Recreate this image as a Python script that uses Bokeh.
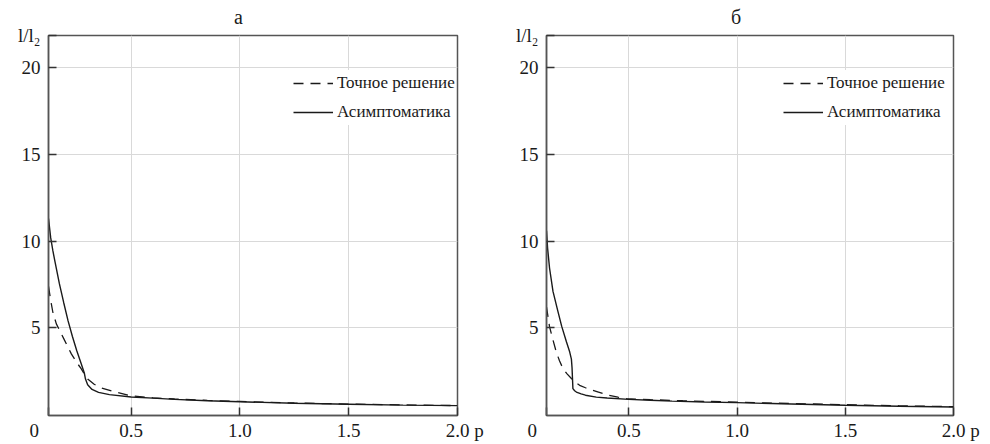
from bokeh.plotting import figure
from bokeh.layouts import row
from bokeh.models import Legend, LegendItem, FixedTicker, Range1d
from bokeh.embed import file_html
from bokeh.resources import INLINE

# ---- data ----
x_ticks = [0.5, 1.0, 1.5, 2.0]
x_tick_labels = ["0.5", "1.0", "1.5", "2.0"]
y_ticks = [5, 10, 15, 20]
panel_titles = ["а", "б"]
series_names = ["Точное решение", "Асимптоматика"]
x_label = "p"
y_label = "l/l₂"
origin_label = "0"
x_start, x_end = 0.12, 2.0
y_start, y_end = -0.05, 21.85

# panel а
a_exact_p = [0.12, 0.13, 0.14, 0.156, 0.17, 0.19, 0.21, 0.225, 0.25, 0.27, 0.285, 0.30, 0.33, 0.36,
             0.41, 0.5, 0.6, 0.7, 0.85, 1.0, 1.25, 1.5, 1.75, 2.0]
a_exact_l = [7.4, 6.6, 5.9, 5.23, 4.88, 4.38, 3.88, 3.5, 3.0, 2.65, 2.34, 2.05, 1.75, 1.55,
             1.36, 1.08, 0.97, 0.9, 0.82, 0.76, 0.67, 0.61, 0.56, 0.52]
a_asym_p = [0.12, 0.13, 0.14, 0.15, 0.17, 0.19, 0.21, 0.23, 0.25, 0.27, 0.285, 0.29, 0.30, 0.32,
            0.35, 0.40, 0.50, 0.60, 0.70, 0.85, 1.0, 1.25, 1.5, 1.75, 2.0]
a_asym_l = [11.3, 10.2, 9.45, 8.8, 7.55, 6.45, 5.4, 4.5, 3.68, 2.95, 2.38, 2.05, 1.72, 1.45,
            1.28, 1.15, 1.02, 0.95, 0.88, 0.80, 0.74, 0.66, 0.60, 0.55, 0.52]

# panel б
b_exact_p = [0.12, 0.134, 0.15, 0.165, 0.18, 0.196, 0.215, 0.235, 0.255, 0.273, 0.3, 0.32, 0.36,
             0.397, 0.45, 0.49, 0.6, 0.75, 1.0, 1.25, 1.5, 1.75, 2.0]
b_exact_l = [6.2, 5.07, 4.3, 3.62, 3.1, 2.66, 2.35, 2.08, 1.86, 1.69, 1.55, 1.46, 1.3,
             1.15, 1.01, 0.92, 0.86, 0.8, 0.72, 0.64, 0.57, 0.51, 0.46]
b_asym_p = [0.12, 0.125, 0.134, 0.15, 0.173, 0.19, 0.212, 0.227, 0.235, 0.238, 0.240, 0.242, 0.25,
            0.258, 0.28, 0.3, 0.35, 0.4, 0.5, 0.6, 0.7, 0.85, 1.0, 1.25, 1.5, 1.75, 2.0]
b_asym_l = [10.6, 9.6, 8.45, 7.1, 5.94, 5.1, 4.2, 3.62, 3.2, 2.7, 2.1, 1.5, 1.38,
            1.3, 1.2, 1.12, 1.01, 0.96, 0.88, 0.83, 0.78, 0.73, 0.69, 0.61, 0.54, 0.48, 0.44]

FONT = "'Liberation Serif', 'Times New Roman', serif"
INK = "#1a1a1a"
FRAME = "#555555"
NB = "\u00a0"


def make_panel(title, ep, el, sp, sl, bl, br, fw, legend_x):
    p = figure(frame_width=fw, frame_height=380,
               x_range=Range1d(x_start, x_end), y_range=Range1d(y_start, y_end),
               output_backend="svg", toolbar_location=None,
               min_border_left=bl, min_border_right=br, min_border_top=35, min_border_bottom=28)
    p.background_fill_color = "white"
    p.border_fill_color = "white"
    p.outline_line_color = FRAME
    p.outline_line_width = 1.5

    # panel letter as title, positioned over p = 1.0
    p.title.text = title
    p.title.align = "left"
    p.title.offset = (1.0 - x_start) / (x_end - x_start) * fw - 6
    p.title.standoff = 11
    p.title.vertical_align = "top"
    p.title.text_font = FONT
    p.title.text_font_style = "normal"
    p.title.text_font_size = "20px"
    p.title.text_color = INK

    for ax in (p.xaxis[0], p.yaxis[0]):
        ax.axis_line_color = FRAME
        ax.axis_line_width = 1.5
        ax.major_tick_in = 8
        ax.major_tick_out = 0
        ax.major_tick_line_color = "#333333"
        ax.major_tick_line_width = 1.5
        ax.minor_tick_line_color = None
        ax.major_label_text_font = FONT
        ax.major_label_text_font_size = "19px"
        ax.major_label_text_color = INK

    # x axis: origin "0" left of the axis corner, "p" after the last tick label
    xt = [x_start] + x_ticks
    xl = [origin_label + NB * 6] + x_tick_labels[:-1] + [NB * 3 + x_tick_labels[-1] + NB + x_label]
    p.xaxis[0].ticker = FixedTicker(ticks=xt)
    p.xaxis[0].major_label_overrides = {t: s for t, s in zip(xt, xl)}
    p.xaxis[0].major_label_standoff = 4

    # y axis: l/l2 sits at the top corner
    yt = y_ticks + [y_end]
    yl = [str(v) for v in y_ticks] + [y_label]
    p.yaxis[0].ticker = FixedTicker(ticks=yt)
    p.yaxis[0].major_label_overrides = {t: s for t, s in zip(yt, yl)}
    p.yaxis[0].major_label_standoff = 8

    p.xgrid[0].grid_line_color = "#d9d9d9"
    p.ygrid[0].grid_line_color = "#d9d9d9"
    p.xgrid[0].grid_line_width = 1
    p.ygrid[0].grid_line_width = 1

    r_exact = p.line(ep, el, line_color=INK, line_width=1.3, line_dash="10 7")
    r_asym = p.line(sp, sl, line_color=INK, line_width=1.4)

    legend = Legend(items=[LegendItem(label=series_names[0], renderers=[r_exact]),
                           LegendItem(label=series_names[1], renderers=[r_asym])],
                    location=(legend_x, 290),
                    background_fill_color="white", background_fill_alpha=1.0,
                    border_line_color=None,
                    label_text_font=FONT, label_text_font_size="17px", label_text_color=INK,
                    glyph_width=40, glyph_height=20, label_height=26, spacing=3,
                    padding=0, margin=0, label_standoff=4)
    p.add_layout(legend)
    return p


p1 = make_panel(panel_titles[0], a_exact_p, a_exact_l, a_asym_p, a_asym_l, 48, 41, 409, 245)
p2 = make_panel(panel_titles[1], b_exact_p, b_exact_l, b_asym_p, b_asym_l, 48, 28, 407, 237)

layout = row(p1, p2)
open("out.html", "w").write(file_html(layout, INLINE))
